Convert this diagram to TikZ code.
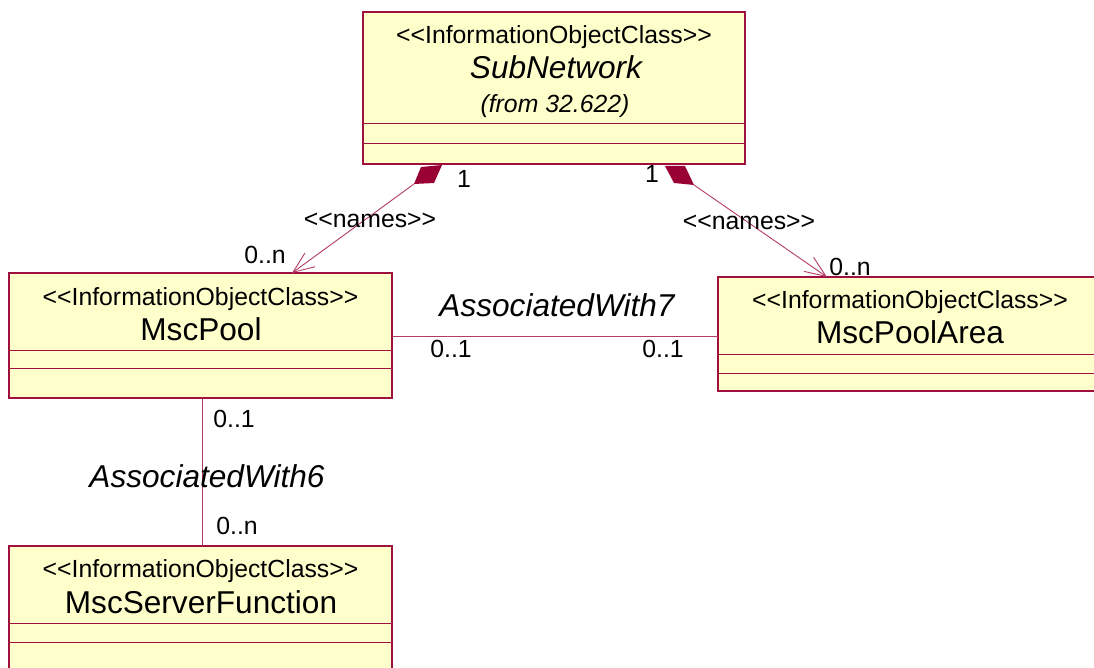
\documentclass[tikz,border=0pt]{standalone}
\usepackage{fontspec}
\setmainfont{Liberation Sans}
\usetikzlibrary{arrows.meta}
\definecolor{umlfill}{HTML}{FFFFCC}
\definecolor{umlline}{HTML}{A0103F}
\definecolor{connline}{HTML}{B33A64}
\definecolor{diam}{HTML}{990033}
\newcommand\LLs{<\kern0pt<}
\newcommand\GGs{>\kern0pt>}
\begin{document}
\begin{tikzpicture}[x=1pt,y=-1pt,
  umlbox/.style={draw=umlline, fill=umlfill, line width=1.3pt, rectangle, anchor=north west, inner sep=0pt, outer sep=0pt},
  divider/.style={draw=umlline, line width=0.9pt},
  small/.style={font=\fontsize{24.8}{28}\selectfont, inner sep=0pt, anchor=base},
  big/.style={font=\fontsize{31.6}{34}\selectfont, inner sep=0pt, anchor=base},
  bigit/.style={font=\fontsize{31.6}{34}\selectfont\itshape, inner sep=0pt, anchor=base},
  smallit/.style={font=\fontsize{24.8}{28}\selectfont\itshape, inner sep=0pt, anchor=base},
  conn/.style={draw=connline, line width=0.9pt},
  barb/.style={-{Straight Barb[length=21pt,width=17pt,line width=0.9pt]}},
  diamond fill/.style={fill=diam}]
\useasboundingbox (0,0) rectangle (1094,668);

% ---- SubNetwork
\node[umlbox, minimum width=382pt, minimum height=152pt] (subnet) at (363,12) {};
\draw[divider] (363,123) -- (745,123);
\draw[divider] (363,143) -- (745,143);
\node[small] (subnetst) at (554,44) {\LLs InformationObjectClass\GGs};
\node[bigit] (subnetname) at (556,79) {SubNetwork};
\node[smallit] (subnetfrom) at (555,113) {(from 32.622)};

% ---- MscPool
\node[umlbox, minimum width=383pt, minimum height=125pt] (pool) at (9,273) {};
\draw[divider] (9,350) -- (392,350);
\draw[divider] (9,368) -- (392,368);
\node[small] (poolst) at (200.5,305) {\LLs InformationObjectClass\GGs};
\node[big] (poolname) at (201,340) {MscPool};

% ---- MscPoolArea
\node[umlbox, minimum width=384pt, minimum height=114pt] (area) at (718,277) {};
\draw[divider] (718,354) -- (1102,354);
\draw[divider] (718,373) -- (1102,373);
\node[small] (areast) at (910,308) {\LLs InformationObjectClass\GGs};
\node[big] (areaname) at (910,343) {MscPoolArea};

% ---- MscServerFunction
\node[umlbox, minimum width=383pt, minimum height=130pt] (server) at (9,546) {};
\draw[divider] (9,623) -- (392,623);
\draw[divider] (9,642) -- (392,642);
\node[small] (serverst) at (200.5,577) {\LLs InformationObjectClass\GGs};
\node[big] (servername) at (201,613) {MscServerFunction};

% ---- composition SubNetwork -> MscPool
\fill[diamond fill] (421,167) -- (442,165) -- (434,183) -- (414,184) -- cycle;
\coordinate (dl) at (414,184);
\coordinate (pooltip) at (292,273);
\draw[conn, barb] (dl) -- (pooltip);
\node[small] (l1) at (464,188) {1};
\node[small] (lnames) at (370,228) {\LLs names\GGs};
\node[small] (l0n) at (265,263) {0..n};

% ---- composition SubNetwork -> MscPoolArea
\fill[diamond fill] (665,166) -- (685,166) -- (694,185) -- (674,183) -- cycle;
\coordinate (dr) at (694,185);
\coordinate (areatip) at (827,277);
\draw[conn, barb] (dr) -- (areatip);
\node[small] (r1) at (652,183) {1};
\node[small] (rnames) at (749,230) {\LLs names\GGs};
\node[small] (r0n) at (850,275) {0..n};

% ---- AssociatedWith7
\coordinate (a7l) at (393,336);
\coordinate (a7r) at (718,336);
\draw[conn] (a7l) -- (a7r);
\node[bigit] (a7) at (557,316) {AssociatedWith7};
\node[small] (a7m1) at (451,357) {0..1};
\node[small] (a7m2) at (663,357) {0..1};

% ---- AssociatedWith6
\coordinate (a6t) at (202,399);
\coordinate (a6b) at (202,546);
\draw[conn] (a6t) -- (a6b);
\node[bigit] (a6) at (207,487) {AssociatedWith6};
\node[small] (a6m1) at (234,427) {0..1};
\node[small] (a6m2) at (237,534) {0..n};
\end{tikzpicture}
\end{document}
